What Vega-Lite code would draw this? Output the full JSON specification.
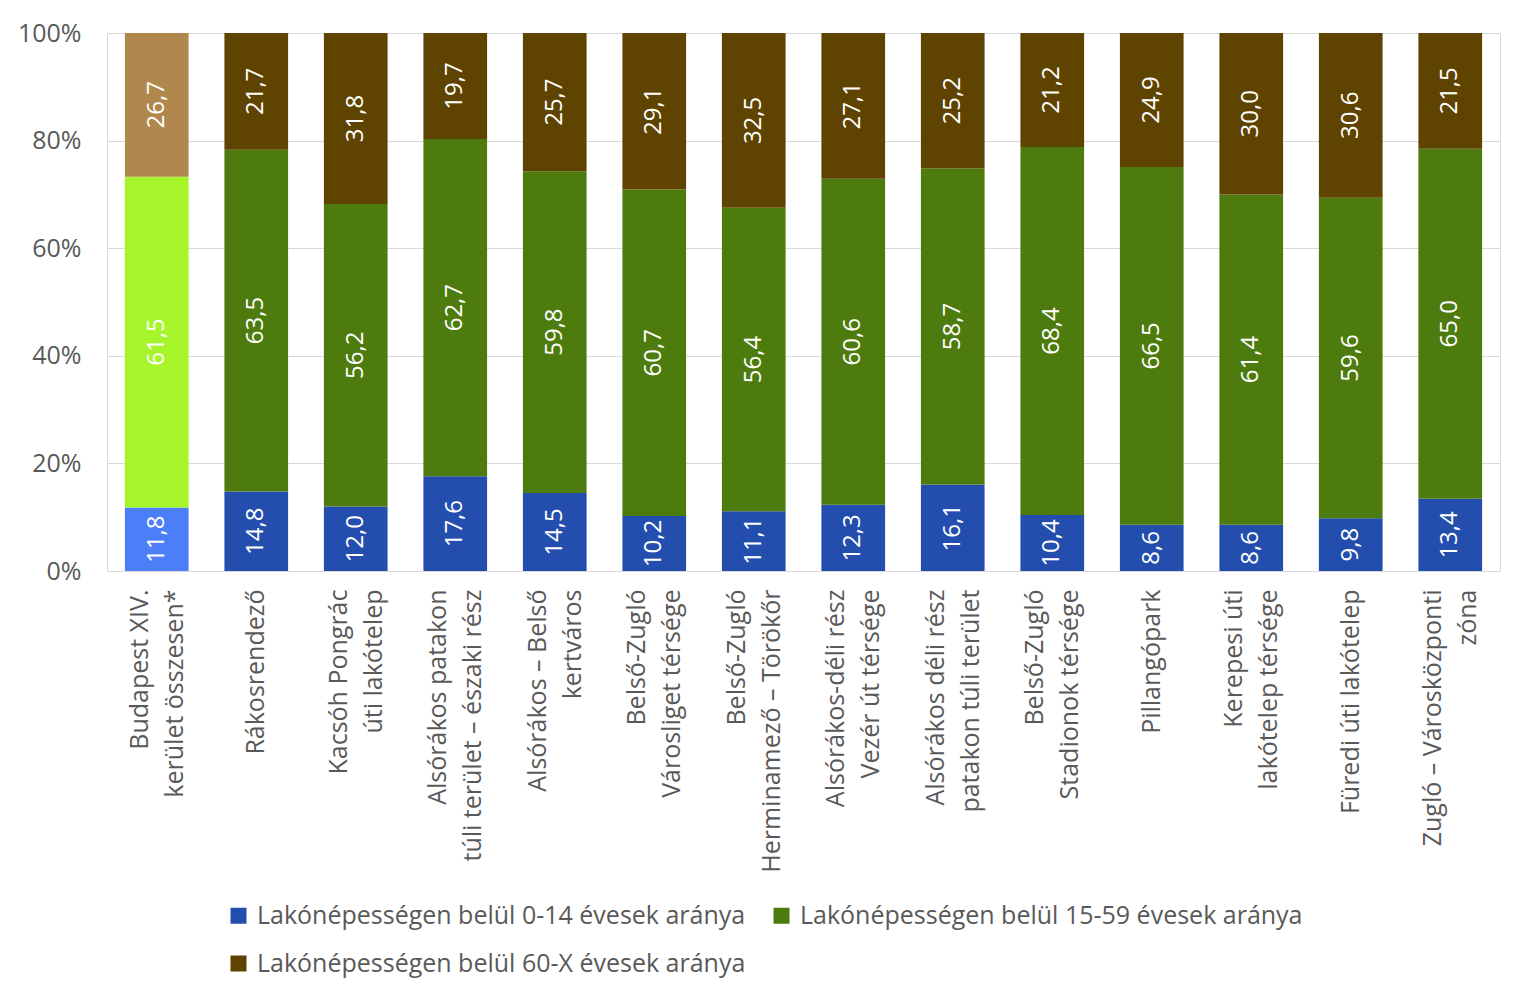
{
  "$schema": "https://vega.github.io/schema/vega-lite/v6.json",
  "autosize": {"type": "none"},
  "padding": {"left": 107, "top": 33, "right": 27, "bottom": 426},
  "width": 1393,
  "height": 538,
  "background": "white",
  "config": {
    "font": "Open Sans",
    "view": {"stroke": "#d9d9d9", "strokeWidth": 1},
    "locale": {"number": {"decimal": ",", "thousands": " ", "grouping": [3], "currency": ["", ""]}}
  },
  "data": {
    "values": [
      {"area": "Budapest XIV.|kerület összesen*", "sorozat": "XIV. kerület 0-14", "ord": 1, "value": 11.8},
      {"area": "Budapest XIV.|kerület összesen*", "sorozat": "XIV. kerület 15-59", "ord": 2, "value": 61.5},
      {"area": "Budapest XIV.|kerület összesen*", "sorozat": "XIV. kerület 60-X", "ord": 3, "value": 26.7},
      {"area": "Rákosrendező", "sorozat": "Lakónépességen belül 0-14 évesek aránya", "ord": 1, "value": 14.8},
      {"area": "Rákosrendező", "sorozat": "Lakónépességen belül 15-59 évesek aránya", "ord": 2, "value": 63.5},
      {"area": "Rákosrendező", "sorozat": "Lakónépességen belül 60-X évesek aránya", "ord": 3, "value": 21.7},
      {"area": "Kacsóh Pongrác|úti lakótelep", "sorozat": "Lakónépességen belül 0-14 évesek aránya", "ord": 1, "value": 12.0},
      {"area": "Kacsóh Pongrác|úti lakótelep", "sorozat": "Lakónépességen belül 15-59 évesek aránya", "ord": 2, "value": 56.2},
      {"area": "Kacsóh Pongrác|úti lakótelep", "sorozat": "Lakónépességen belül 60-X évesek aránya", "ord": 3, "value": 31.8},
      {"area": "Alsórákos  patakon|túli terület – északi rész", "sorozat": "Lakónépességen belül 0-14 évesek aránya", "ord": 1, "value": 17.6},
      {"area": "Alsórákos  patakon|túli terület – északi rész", "sorozat": "Lakónépességen belül 15-59 évesek aránya", "ord": 2, "value": 62.7},
      {"area": "Alsórákos  patakon|túli terület – északi rész", "sorozat": "Lakónépességen belül 60-X évesek aránya", "ord": 3, "value": 19.7},
      {"area": "Alsórákos – Belső|kertváros", "sorozat": "Lakónépességen belül 0-14 évesek aránya", "ord": 1, "value": 14.5},
      {"area": "Alsórákos – Belső|kertváros", "sorozat": "Lakónépességen belül 15-59 évesek aránya", "ord": 2, "value": 59.8},
      {"area": "Alsórákos – Belső|kertváros", "sorozat": "Lakónépességen belül 60-X évesek aránya", "ord": 3, "value": 25.7},
      {"area": "Belső-Zugló|Városliget térsége", "sorozat": "Lakónépességen belül 0-14 évesek aránya", "ord": 1, "value": 10.2},
      {"area": "Belső-Zugló|Városliget térsége", "sorozat": "Lakónépességen belül 15-59 évesek aránya", "ord": 2, "value": 60.7},
      {"area": "Belső-Zugló|Városliget térsége", "sorozat": "Lakónépességen belül 60-X évesek aránya", "ord": 3, "value": 29.1},
      {"area": "Belső-Zugló|Herminamező – Törökőr", "sorozat": "Lakónépességen belül 0-14 évesek aránya", "ord": 1, "value": 11.1},
      {"area": "Belső-Zugló|Herminamező – Törökőr", "sorozat": "Lakónépességen belül 15-59 évesek aránya", "ord": 2, "value": 56.4},
      {"area": "Belső-Zugló|Herminamező – Törökőr", "sorozat": "Lakónépességen belül 60-X évesek aránya", "ord": 3, "value": 32.5},
      {"area": "Alsórákos-déli rész|Vezér út térsége", "sorozat": "Lakónépességen belül 0-14 évesek aránya", "ord": 1, "value": 12.3},
      {"area": "Alsórákos-déli rész|Vezér út térsége", "sorozat": "Lakónépességen belül 15-59 évesek aránya", "ord": 2, "value": 60.6},
      {"area": "Alsórákos-déli rész|Vezér út térsége", "sorozat": "Lakónépességen belül 60-X évesek aránya", "ord": 3, "value": 27.1},
      {"area": "Alsórákos déli rész|patakon túli terület", "sorozat": "Lakónépességen belül 0-14 évesek aránya", "ord": 1, "value": 16.1},
      {"area": "Alsórákos déli rész|patakon túli terület", "sorozat": "Lakónépességen belül 15-59 évesek aránya", "ord": 2, "value": 58.7},
      {"area": "Alsórákos déli rész|patakon túli terület", "sorozat": "Lakónépességen belül 60-X évesek aránya", "ord": 3, "value": 25.2},
      {"area": "Belső-Zugló|Stadionok térsége", "sorozat": "Lakónépességen belül 0-14 évesek aránya", "ord": 1, "value": 10.4},
      {"area": "Belső-Zugló|Stadionok térsége", "sorozat": "Lakónépességen belül 15-59 évesek aránya", "ord": 2, "value": 68.4},
      {"area": "Belső-Zugló|Stadionok térsége", "sorozat": "Lakónépességen belül 60-X évesek aránya", "ord": 3, "value": 21.2},
      {"area": "Pillangópark", "sorozat": "Lakónépességen belül 0-14 évesek aránya", "ord": 1, "value": 8.6},
      {"area": "Pillangópark", "sorozat": "Lakónépességen belül 15-59 évesek aránya", "ord": 2, "value": 66.5},
      {"area": "Pillangópark", "sorozat": "Lakónépességen belül 60-X évesek aránya", "ord": 3, "value": 24.9},
      {"area": "Kerepesi úti|lakótelep térsége", "sorozat": "Lakónépességen belül 0-14 évesek aránya", "ord": 1, "value": 8.6},
      {"area": "Kerepesi úti|lakótelep térsége", "sorozat": "Lakónépességen belül 15-59 évesek aránya", "ord": 2, "value": 61.4},
      {"area": "Kerepesi úti|lakótelep térsége", "sorozat": "Lakónépességen belül 60-X évesek aránya", "ord": 3, "value": 30.0},
      {"area": "Füredi úti lakótelep", "sorozat": "Lakónépességen belül 0-14 évesek aránya", "ord": 1, "value": 9.8},
      {"area": "Füredi úti lakótelep", "sorozat": "Lakónépességen belül 15-59 évesek aránya", "ord": 2, "value": 59.6},
      {"area": "Füredi úti lakótelep", "sorozat": "Lakónépességen belül 60-X évesek aránya", "ord": 3, "value": 30.6},
      {"area": "Zugló – Városközponti|zóna", "sorozat": "Lakónépességen belül 0-14 évesek aránya", "ord": 1, "value": 13.4},
      {"area": "Zugló – Városközponti|zóna", "sorozat": "Lakónépességen belül 15-59 évesek aránya", "ord": 2, "value": 65.0},
      {"area": "Zugló – Városközponti|zóna", "sorozat": "Lakónépességen belül 60-X évesek aránya", "ord": 3, "value": 21.5}
    ]
  },
  "transform": [
    {"stack": "value", "groupby": ["area"], "sort": [{"field": "ord", "order": "ascending"}], "as": ["y0", "y1"], "offset": "normalize"},
    {"calculate": "(datum.y0 + datum.y1) / 2", "as": "ymid"}
  ],
  "encoding": {
    "x": {
      "field": "area", "type": "nominal", "sort": null, "title": null,
      "scale": {"paddingInner": 0.36, "paddingOuter": 0.18},
      "axis": {
        "labelAngle": -90, "labelAlign": "right", "labelBaseline": "middle",
        "labelExpr": "split(datum.label, '|')",
        "labelLineHeight": 35, "labelFontSize": 25, "labelColor": "#595959",
        "labelPadding": 18, "labelLimit": 0, "ticks": false, "domain": false,
        "labelOffset": {"condition": {"test": "indexof(datum.value, '|') >= 0", "value": -17}, "value": 0}
      }
    }
  },
  "layer": [
    {
      "mark": {"type": "bar"},
      "encoding": {
        "y": {
          "field": "y0", "type": "quantitative", "title": null,
          "scale": {"domain": [0, 1], "nice": false},
          "axis": {
            "values": [0, 0.2, 0.4, 0.6, 0.8, 1], "format": ".0%",
            "labelFontSize": 25, "labelColor": "#595959", "labelPadding": 26,
            "ticks": false, "domain": false, "gridColor": "#d9d9d9"
          }
        },
        "y2": {"field": "y1"},
        "color": {
          "field": "sorozat", "type": "nominal",
          "scale": {
            "domain": ["Lakónépességen belül 0-14 évesek aránya", "Lakónépességen belül 15-59 évesek aránya", "Lakónépességen belül 60-X évesek aránya", "XIV. kerület 0-14", "XIV. kerület 15-59", "XIV. kerület 60-X"],
            "range": ["#234eae", "#4e7b0e", "#5f4300", "#4c7ef8", "#a6f52a", "#b0874d"]
          },
          "legend": {
            "values": ["Lakónépességen belül 0-14 évesek aránya", "Lakónépességen belül 15-59 évesek aránya", "Lakónépességen belül 60-X évesek aránya"],
            "title": null, "orient": "none", "legendX": 119, "legendY": 870,
            "direction": "horizontal", "columns": 2, "columnPadding": 23, "rowPadding": 22,
            "symbolType": "square", "symbolSize": 256, "symbolStrokeWidth": 0,
            "labelFontSize": 25, "labelColor": "#595959", "labelLimit": 0, "labelOffset": 6
          }
        }
      }
    },
    {
      "mark": {"type": "text", "angle": 270, "align": "center", "baseline": "middle", "color": "white", "fontSize": 24},
      "encoding": {
        "y": {"field": "ymid", "type": "quantitative"},
        "text": {"field": "value", "type": "quantitative", "format": ".1f"}
      }
    }
  ]
}
